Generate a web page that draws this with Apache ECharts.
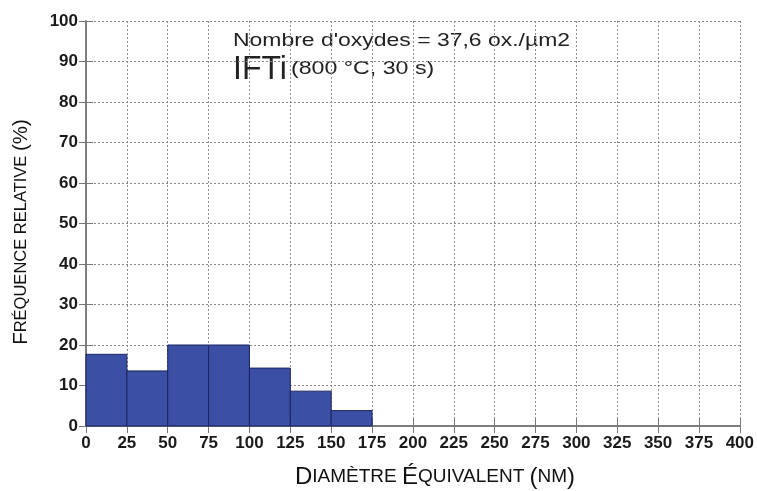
<!DOCTYPE html>
<html>
<head>
<meta charset="utf-8">
<script src="https://cdn.jsdelivr.net/npm/echarts@6/dist/echarts.min.js"></script>
<style>
  html, body { margin: 0; padding: 0; background: #fff; }
  #main { width: 757px; height: 491px; }
</style>
</head>
<body>
<div id="main"></div>
<script>
// bins of equivalent diameter (nm) and relative frequency (%)
var binEdges = [0, 25, 50, 75, 100, 125, 150, 175];
var freq = [17.7, 13.6, 20, 20, 14.3, 8.6, 3.8];
var xTicks = [0, 400, 25]; // min, max, step
var yTicks = [0, 100, 10];

var histData = freq.map(function (v, i) {
  return [binEdges[i], binEdges[i + 1], v];
});

var myChart = echarts.init(document.getElementById('main'));

var frameLine = { show: true, lineStyle: { color: '#777', width: 1.5 } };
var frameTick = { show: true, inside: true, length: 7, lineStyle: { color: '#777' } };
var dotted = { show: true, lineStyle: { color: '#8a8a8a', type: [2, 2], width: 1 } };

var option = {
  animation: false,
  backgroundColor: '#fff',
  grid: { left: 86, right: 17, top: 21, bottom: 65 },
  xAxis: [
    {
      type: 'value',
      min: xTicks[0],
      max: xTicks[1],
      interval: xTicks[2],
      axisLine: frameLine,
      axisTick: frameTick,
      axisLabel: {
        margin: 9,
        color: '#1a1a1a',
        fontWeight: 'bold',
        fontFamily: 'Liberation Sans',
        fontSize: 17
      },
      splitLine: dotted
    },
    {
      type: 'value',
      position: 'top',
      min: xTicks[0],
      max: xTicks[1],
      interval: xTicks[2],
      axisLine: frameLine,
      axisTick: frameTick,
      axisLabel: { show: false },
      splitLine: { show: false }
    }
  ],
  yAxis: [
    {
      type: 'value',
      min: yTicks[0],
      max: yTicks[1],
      interval: yTicks[2],
      axisLine: frameLine,
      axisTick: frameTick,
      axisLabel: {
        margin: 8,
        color: '#1a1a1a',
        fontWeight: 'bold',
        fontFamily: 'Liberation Sans',
        fontSize: 17
      },
      splitLine: dotted
    },
    {
      type: 'value',
      position: 'right',
      min: yTicks[0],
      max: yTicks[1],
      interval: yTicks[2],
      axisLine: frameLine,
      axisTick: frameTick,
      axisLabel: { show: false },
      splitLine: { show: false }
    }
  ],
  series: [
    {
      type: 'custom',
      xAxisIndex: 0,
      yAxisIndex: 0,
      data: histData,
      encode: { x: [0, 1], y: 2 },
      renderItem: function (params, api) {
        var p0 = api.coord([api.value(0), api.value(2)]);
        var p1 = api.coord([api.value(1), 0]);
        return {
          type: 'rect',
          shape: { x: p0[0], y: p0[1], width: p1[0] - p0[0], height: p1[1] - p0[1] },
          style: { fill: '#3b4fa5', stroke: '#1c2560', lineWidth: 1 }
        };
      }
    }
  ],
  graphic: [
    {
      type: 'text',
      x: 233,
      y: 41,
      scaleX: 1.24,
      style: {
        text: "Nombre d'oxydes = 37,6 ox./µm2",
        verticalAlign: 'middle',
        fill: '#222',
        font: '18.5px "Liberation Sans"'
      }
    },
    {
      type: 'text',
      x: 233,
      y: 70,
      scaleX: 0.94,
      style: {
        text: 'IFTi',
        verticalAlign: 'middle',
        fill: '#222',
        font: '34px "Liberation Sans"'
      }
    },
    {
      type: 'text',
      x: 291,
      y: 69,
      scaleX: 1.22,
      style: {
        text: '(800 °C, 30 s)',
        verticalAlign: 'middle',
        fill: '#222',
        font: '19px "Liberation Sans"'
      }
    },
    {
      type: 'text',
      x: 435,
      y: 477,
      style: {
        text: '{b|D}{s|IAMÈTRE }{b|É}{s|QUIVALENT }{b|(}{s|NM}{b|)}',
        align: 'center',
        verticalAlign: 'middle',
        rich: {
          b: { fill: '#111', fontSize: 24, fontFamily: 'Liberation Sans' },
          s: { fill: '#111', fontSize: 19, fontFamily: 'Liberation Sans' }
        }
      }
    },
    {
      type: 'text',
      x: 21,
      y: 232,
      rotation: Math.PI / 2,
      style: {
        text: '{b|F}{s|RÉQUENCE RELATIVE }{b|(%)}',
        align: 'center',
        verticalAlign: 'middle',
        rich: {
          b: { fill: '#111', fontSize: 20.5, fontFamily: 'Liberation Sans' },
          s: { fill: '#111', fontSize: 16.5, fontFamily: 'Liberation Sans' }
        }
      }
    }
  ]
};

myChart.setOption(option, true);
</script>
</body>
</html>
